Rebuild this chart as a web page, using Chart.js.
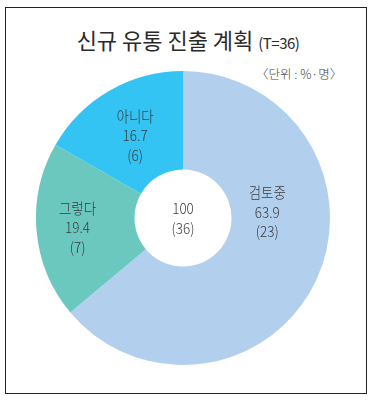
<!DOCTYPE html>
<html><head><meta charset="utf-8">
<script src="https://cdn.jsdelivr.net/npm/chart.js@4"></script>
<style>
html,body{margin:0;padding:0;background:#fff;width:374px;height:405px;overflow:hidden;font-family:"Noto Sans CJK KR","Noto Sans",sans-serif;}
#frame{position:absolute;left:5px;top:7px;width:360px;height:385px;border:1.5px solid #222;}
#title{position:absolute;left:0;top:24px;width:374px;text-align:center;color:#2a2a2a;font-size:22px;line-height:30px;white-space:nowrap;padding-left:2px;box-sizing:border-box;}
#title small{font-size:15px;letter-spacing:-0.5px;}
#unit{position:absolute;left:256px;top:64px;font-size:12.5px;color:#444;white-space:nowrap;font-weight:300;}
#wrap{position:absolute;left:36px;top:71px;width:294px;height:294px;}
</style></head>
<body>
<div id="frame"></div>
<div id="title">신규 유통 진출 계획 <small>(T=36)</small></div>
<div id="unit">〈단위 : %·명〉</div>
<div id="wrap"><canvas id="c"></canvas></div>
<script>
const categories = ['검토중', '그렇다', '아니다'];
const percents = [63.9, 19.4, 16.7];
const counts = [23, 7, 6];
const totalPercent = '100';
const totalCount = 36;
const colors = ['#b2d0ee', '#6bc8bf', '#34c4f3'];

const labelPlugin = {
  id: 'sliceLabels',
  afterDraw(chart, args, opts) {
    const ctx = chart.ctx;
    const meta = chart.getDatasetMeta(0);
    const sx = 0.9;
    ctx.save();
    ctx.fillStyle = '#3a3a3a';
    ctx.textAlign = 'center';
    ctx.textBaseline = 'middle';
    ctx.font = '300 15px "Noto Sans CJK KR", "Noto Sans", sans-serif';
    const lh = 19.5;
    const put = (t, x, y) => { ctx.save(); ctx.translate(x, y); ctx.scale(sx, 1); ctx.fillText(t, 0, 0); ctx.restore(); };
    meta.data.forEach((arc, i) => {
      const p = arc.getProps(['x','y','startAngle','endAngle','outerRadius'], true);
      const adj = opts.place[i];
      const ang = (adj.angle !== null) ? (adj.angle * Math.PI / 180 - Math.PI/2) : (p.startAngle + p.endAngle) / 2;
      const r = p.outerRadius * adj.r;
      const cx = p.x + Math.cos(ang) * r;
      const cy = p.y + Math.sin(ang) * r;
      const lines = [categories[i], percents[i].toFixed(1), '(' + counts[i] + ')'];
      lines.forEach((t, k) => put(t, cx, cy + (k - 1) * lh));
    });
    const c = meta.data[0];
    put(totalPercent, c.x, c.y - 10);
    put('(' + totalCount + ')', c.x, c.y + 10);
    ctx.restore();
  }
};

new Chart(document.getElementById('c'), {
  type: 'doughnut',
  data: {
    labels: categories,
    datasets: [{ data: percents, backgroundColor: colors, borderWidth: 0, hoverOffset: 0 }]
  },
  options: {
    responsive: true,
    maintainAspectRatio: false,
    animation: false,
    cutout: '33%',
    layout: { padding: 0 },
    plugins: {
      legend: { display: false },
      tooltip: { enabled: false },
      sliceLabels: { place: [ {angle: 86, r: 0.575}, {angle: null, r: 0.72}, {angle: null, r: 0.65} ] }
    },
    events: []
  },
  plugins: [labelPlugin]
});
</script>
</body></html>
